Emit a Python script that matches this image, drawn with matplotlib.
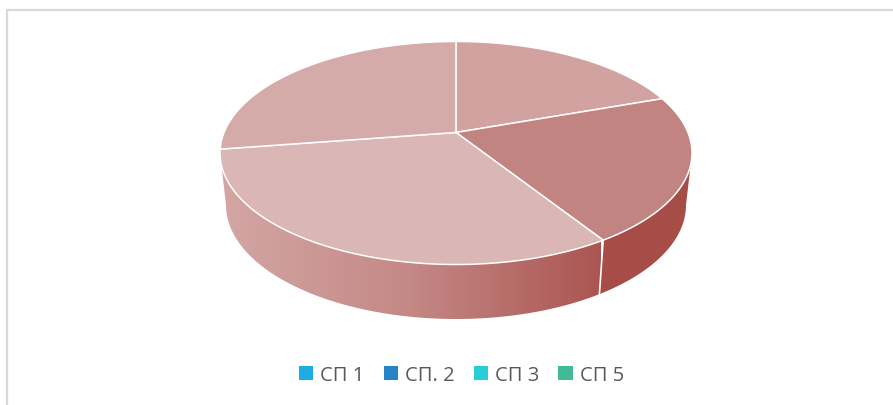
import numpy as np
import matplotlib
matplotlib.use('Agg')
import matplotlib.pyplot as plt
from matplotlib.patches import Polygon, Patch
from matplotlib.colors import LinearSegmentedColormap

labels = ['СП 1', 'СП. 2', 'СП 3', 'СП 5']
legend_colors = ['#1CADE4', '#2683C6', '#27CED7', '#42BA97']
shares = [19.6, 21.4, 31.6, 27.4]
top_colors = ['#D2A2A1', '#C28481', '#DAB6B4', '#D4ABA9']

# ellipse of the top face, in pixels
cx, cy, a, b = 456, 154, 236, 111.5
# ellipse of the bottom edge
cx2, cy2, a2, b2 = 456, 206, 230, 114
tilt = 0.184

plt.rcParams['font.family'] = ['Open Sans', 'DejaVu Sans']

fig = plt.figure(figsize=(8.93, 4.06), dpi=100)
ax = fig.add_axes([0, 0, 1, 1])
ax.set_xlim(0, 893)
ax.set_ylim(406, 0)
ax.axis('off')


def rim(deg):
    # point on the top rim with the perspective shift of the centre
    th = np.radians(deg)
    u, v = np.cos(th), np.sin(th)
    s = np.sqrt(1 - tilt ** 2)
    x = u * s / (1 + tilt * v)
    y = (v + tilt) / (1 + tilt * v)
    return cx + a * x, cy - b * y


def low(deg):
    x, y = rim(deg)
    # same spot on the bottom edge
    return cx2 + (x - cx) / a * a2, cy2 + (y - cy) / b * b2


# frame
ax.plot([7, 7, 893], [406, 11, 11], color='#D9D9D9', lw=1.6, solid_joinstyle='miter')

# side wall with gradient, widest points of the rim are at +-tilt
side = np.degrees(np.arcsin(tilt))
ang = np.linspace(-180 + side, -side, 240)
tx, ty = rim(ang)
bx, by = low(ang)
wall = np.column_stack([np.r_[tx, bx[::-1]], np.r_[ty, by[::-1]]])
wall_clip = Polygon(wall, closed=True, fc='none', ec='none')
ax.add_patch(wall_clip)
cmap = LinearSegmentedColormap.from_list('wall', ['#D3A6A4', '#C48885', '#AB5552'])
grad = np.linspace(0, 1, 256).reshape(1, -1)
bounds = np.cumsum([0] + shares) / sum(shares) * 360
edge_deg = 90 - bounds
split = edge_deg[2]
sx, sy = rim(split)
lx, ly = low(split)
im = ax.imshow(grad, extent=[222, lx + 1, 330, 130], cmap=cmap, aspect='auto', zorder=1)
im.set_clip_path(wall_clip)
ax.set_xlim(0, 893)
ax.set_ylim(406, 0)

# flat dark part of the wall right of the last split
ang2 = np.linspace(split, -side, 80)
tx2, ty2 = rim(ang2)
bx2, by2 = low(ang2)
ax.fill(np.r_[tx2, bx2[::-1]], np.r_[ty2, by2[::-1]], color='#A64D48', zorder=2, lw=0)
ax.plot([sx, lx], [sy, ly], color='white', lw=1.2, zorder=3)

# top face
apex = (cx, cy - b * tilt)
for i in range(len(shares)):
    arc = np.linspace(edge_deg[i], edge_deg[i + 1], 120)
    px, py = rim(arc)
    pts = np.column_stack([np.r_[apex[0], px], np.r_[apex[1], py]])
    ax.add_patch(Polygon(pts, closed=True, fc=top_colors[i], ec='white', lw=1.1, zorder=4))

handles = [Patch(fc=c, ec='none') for c in legend_colors]
ax.legend(handles, labels, loc='center', bbox_to_anchor=(461.5 / 893, 1 - 376 / 406), ncol=4,
          frameon=False, fontsize=14.5, labelcolor='#595959', handlelength=0.7, handleheight=0.7,
          handletextpad=0.35, columnspacing=0.95)

fig.savefig('out.png', dpi=100)
